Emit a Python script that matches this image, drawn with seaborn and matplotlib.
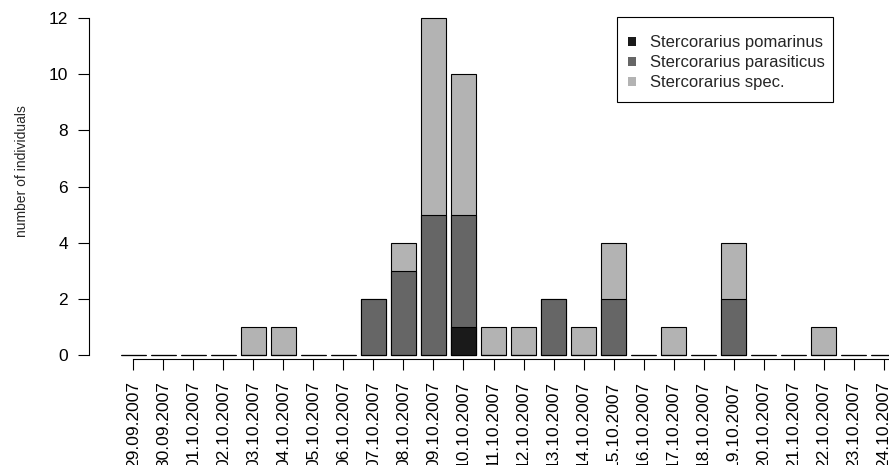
import pandas as pd
import numpy as np
import matplotlib
matplotlib.use('Agg')
import matplotlib.pyplot as plt
import seaborn as sns
from matplotlib.patches import Patch, Rectangle

# counts per day
dates = ['29.09.2007', '30.09.2007', '01.10.2007', '02.10.2007', '03.10.2007',
         '04.10.2007', '05.10.2007', '06.10.2007', '07.10.2007', '08.10.2007',
         '09.10.2007', '10.10.2007', '11.10.2007', '12.10.2007', '13.10.2007',
         '14.10.2007', '15.10.2007', '16.10.2007', '17.10.2007', '18.10.2007',
         '19.10.2007', '20.10.2007', '21.10.2007', '22.10.2007', '23.10.2007',
         '24.10.2007']
pomarinus = [0, 0, 0, 0, 0, 0, 0, 0, 0, 0, 0, 1, 0, 0, 0, 0, 0, 0, 0, 0, 0, 0, 0, 0, 0, 0]
parasiticus = [0, 0, 0, 0, 0, 0, 0, 0, 2, 3, 5, 4, 0, 0, 2, 0, 2, 0, 0, 0, 2, 0, 0, 0, 0, 0]
spec = [0, 0, 0, 0, 1, 1, 0, 0, 0, 1, 7, 5, 1, 1, 0, 1, 2, 0, 1, 0, 2, 0, 0, 1, 0, 0]
species = ['Stercorarius pomarinus', 'Stercorarius parasiticus', 'Stercorarius spec.']
colors = ['#1a1a1a', '#666666', '#b3b3b3']

df = pd.DataFrame({'date': dates, 'pom': pomarinus, 'para': parasiticus, 'spec': spec})
df['lvl2'] = df['pom'] + df['para']
df['lvl3'] = df['lvl2'] + df['spec']

sns.set_style('white')
plt.rcParams['font.family'] = ['Liberation Sans', 'DejaVu Sans']

fig = plt.figure(figsize=(8.89, 4.65), dpi=100)
ax = fig.add_axes([89 / 889, 110 / 465, 800 / 889, 337 / 465])

# stack by layering cumulative totals
for col, c in zip(['lvl3', 'lvl2', 'pom'], colors[::-1]):
    sns.barplot(data=df, x='date', y=col, color=c, saturation=1, width=0.833,
                edgecolor='black', linewidth=0.8, errorbar=None, ax=ax)

for p in ax.patches:
    p.set_clip_on(False)

ax.set_xlim(-1.483, 25.183)
ax.set_ylim(0, 12)
ax.set_yticks(np.arange(0, 13, 2))
ax.set_xlabel('')
ax.set_ylabel('number of individuals', fontsize=10)
ax.yaxis.set_label_coords(-0.075, 0.546)

for s in ['top', 'right']:
    ax.spines[s].set_visible(False)
ax.spines['left'].set_bounds(0, 12)
ax.spines['bottom'].set_bounds(0, 25.6)
ax.spines['bottom'].set_position(('outward', 3))
for s in ['left', 'bottom']:
    ax.spines[s].set_color('black')
    ax.spines[s].set_linewidth(0.8)

ax.tick_params(axis='y', direction='out', length=8, width=0.8, pad=7,
               labelsize=12.5, left=True, colors='black')
ax.tick_params(axis='x', direction='out', length=8, width=0.8, pad=8,
               labelsize=12.5, bottom=True, colors='black')
plt.setp(ax.get_xticklabels(), rotation=90, va='top')

handles = [Patch(facecolor=c, edgecolor='none') for c in colors]
leg = ax.legend(handles, species, loc='upper left',
                bbox_to_anchor=(628 / 889, 1 - 35.5 / 465), bbox_transform=fig.transFigure,
                fontsize=12, frameon=False, handlelength=0.45,
                handleheight=0.45, handletextpad=0.85, labelspacing=0.3,
                borderpad=0, borderaxespad=0)

# legend box drawn separately (R style uneven padding)
fig.patches.append(Rectangle((617 / 889, 1 - 102 / 465), 216 / 889, 85 / 465,
                             transform=fig.transFigure, fill=False,
                             edgecolor='black', linewidth=0.8))

fig.savefig('out.png', dpi=100)
